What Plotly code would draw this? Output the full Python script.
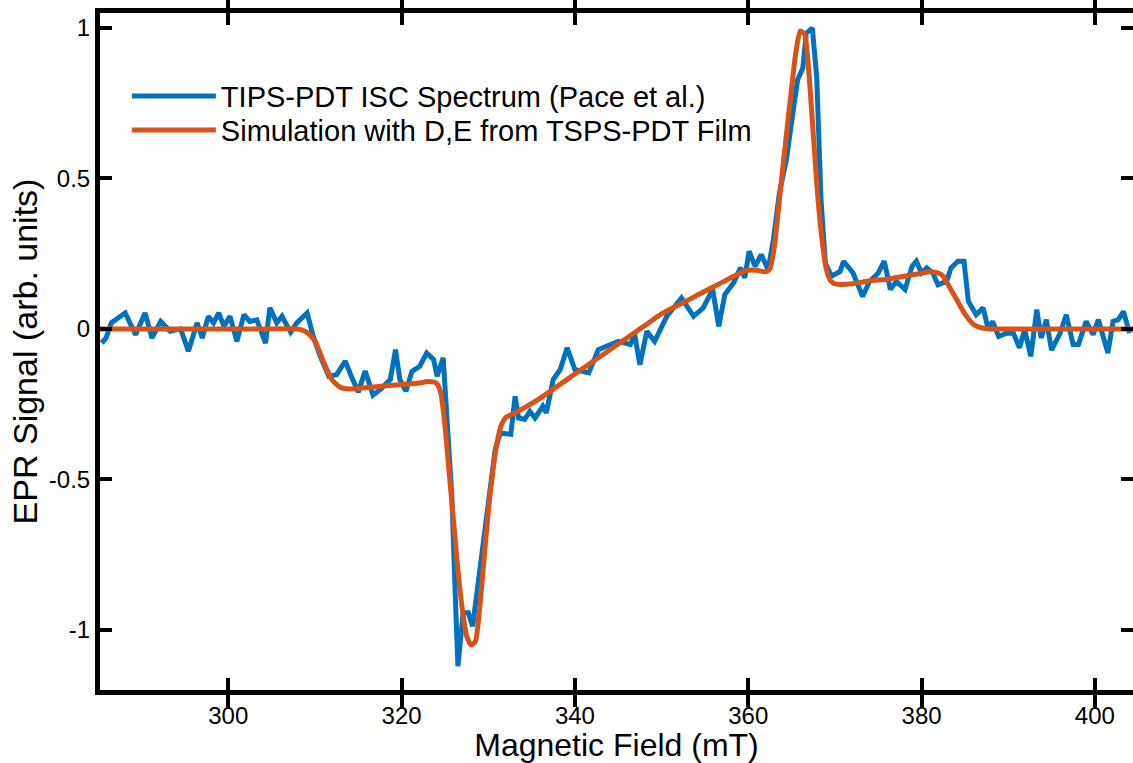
import plotly.graph_objects as go

# Experimental spectrum (blue)
field_exp = [285.4, 285.9, 286.5, 288.1, 289.3, 290.4, 291.2, 292.2, 293.3, 294.5, 295.4, 296.4, 297.0,
             297.7, 298.3, 298.9, 299.5, 300.2, 301.0, 301.8, 302.5, 303.3, 304.3, 304.8, 305.6, 306.2,
             307.2, 307.9, 309.1, 309.8, 310.6, 311.6, 312.5, 313.5, 314.2, 315.0, 315.8, 316.7, 317.6,
             318.7, 319.3, 319.8, 320.5, 321.2, 322.1, 322.9, 323.7, 324.1, 324.8, 325.2, 325.8, 326.2,
             326.5, 327.1, 327.7, 328.2, 329.0, 329.8, 330.8, 331.4, 332.1, 332.6, 333.1, 333.5, 334.2,
             334.8, 335.4, 336.3, 336.7, 337.5, 338.3, 339.1, 340.0, 341.6, 342.7, 343.7, 345.0, 346.4,
             346.9, 347.5, 348.3, 349.2, 350.6, 352.3, 353.7, 354.8, 355.9, 356.6, 357.3, 358.3, 359.1,
             359.6, 360.1, 360.8, 361.5, 362.3, 362.9, 363.6, 364.4, 365.2, 365.7, 366.3, 366.7, 367.4,
             367.9, 368.4, 368.9, 369.6, 370.6, 371.0, 372.1, 373.2, 374.0, 375.0, 375.7, 376.4, 377.1,
             378.1, 378.9, 379.4, 380.0, 380.6, 381.3, 381.9, 382.9, 383.4, 384.2, 384.9, 385.4, 386.3,
             387.1, 387.7, 388.2, 388.9, 389.8, 390.6, 391.3, 391.9, 392.6, 393.3, 393.8, 394.4, 395.0,
             396.0, 396.7, 397.5, 398.1, 399.0, 399.8, 400.4, 401.0, 401.5, 402.1, 402.7, 403.3, 404.0]
signal_exp = [-0.047, -0.03, 0.02, 0.053, -0.019, 0.053, -0.03, 0.025, -0.008, 0.0, -0.074, 0.02, -0.03,
              0.042, 0.02, 0.053, 0.009, 0.042, -0.041, 0.047, 0.025, 0.03, -0.047, 0.07, 0.02, 0.042,
              -0.011, 0.02, 0.053, -0.024, -0.09, -0.157, -0.152, -0.107, -0.157, -0.21, -0.14, -0.22, -0.2,
              -0.168, -0.069, -0.168, -0.207, -0.141, -0.124, -0.08, -0.102, -0.157, -0.096, -0.257, -0.556, -0.888,
              -1.121, -0.943, -0.943, -0.988, -0.81, -0.611, -0.401, -0.346, -0.346, -0.35, -0.224, -0.296, -0.301,
              -0.274, -0.296, -0.257, -0.279, -0.168, -0.135, -0.063, -0.135, -0.146, -0.069, -0.058, -0.041, -0.052,
              -0.019, -0.119, -0.008, -0.041, 0.042, 0.103, 0.042, 0.07, 0.131, 0.009, 0.114, 0.153, 0.203,
              0.17, 0.258, 0.208, 0.247, 0.197, 0.297, 0.452, 0.562, 0.728, 0.828, 0.867, 0.983, 1.0,
              0.839, 0.43, 0.219, 0.175, 0.191, 0.225, 0.186, 0.108, 0.158, 0.186, 0.225, 0.131, 0.158,
              0.131, 0.208, 0.225, 0.186, 0.203, 0.186, 0.147, 0.158, 0.203, 0.225, 0.225, 0.092, 0.047,
              0.07, -0.002, 0.025, -0.025, -0.014, -0.014, -0.063, -0.002, -0.091, 0.064, -0.03, 0.031, -0.07,
              -0.014, 0.047, -0.052, -0.052, 0.025, -0.019, 0.031, -0.025, -0.08, 0.025, 0.031, 0.058, -0.014]

# Simulation (orange)
field_sim = [285.2, 295.0, 305.0, 308.0, 309.0, 310.0, 311.0, 312.0, 313.0, 314.0, 316.0, 318.0, 320.0,
             322.0, 323.0, 324.0, 324.5, 325.0, 325.5, 326.0, 326.5, 327.0, 327.5, 328.0, 328.5, 329.0,
             329.5, 330.0, 330.5, 331.0, 331.5, 332.0, 333.0, 334.0, 336.0, 338.0, 340.0, 342.0, 344.0,
             346.0, 348.0, 350.0, 352.0, 354.0, 356.0, 358.0, 359.0, 360.0, 361.0, 362.0, 362.5, 363.0,
             363.5, 364.0, 364.5, 365.0, 365.5, 366.0, 366.5, 367.0, 367.5, 368.0, 368.5, 369.0, 369.5,
             370.0, 372.0, 374.0, 376.0, 378.0, 380.0, 381.0, 382.0, 382.5, 383.0, 384.0, 385.0, 386.0,
             387.0, 388.0, 395.0, 404.4]
signal_sim = [0.0, 0.0, 0.0, 0.0, -0.01, -0.04, -0.11, -0.17, -0.195, -0.2, -0.195, -0.19, -0.185,
              -0.18, -0.175, -0.18, -0.21, -0.32, -0.48, -0.64, -0.8, -0.93, -1.02, -1.05, -1.04, -0.93,
              -0.77, -0.61, -0.48, -0.38, -0.32, -0.295, -0.28, -0.265, -0.23, -0.19, -0.15, -0.11, -0.07,
              -0.03, 0.01, 0.05, 0.08, 0.11, 0.14, 0.17, 0.185, 0.195, 0.195, 0.19, 0.2, 0.27,
              0.4, 0.54, 0.67, 0.8, 0.92, 0.99, 0.98, 0.85, 0.65, 0.45, 0.3, 0.2, 0.16,
              0.15, 0.15, 0.16, 0.165, 0.175, 0.185, 0.19, 0.185, 0.175, 0.15, 0.1, 0.05, 0.015,
              0.003, 0.0, 0.0, 0.0]

x_ticks = [300, 320, 340, 360, 380, 400]
y_ticks = [-1, -0.5, 0, 0.5, 1]
y_tick_labels = ["-1", "-0.5", "0", "0.5", "1"]

FONT = "Liberation Sans, Arial, sans-serif"
Y_RANGE = [-1.2, 1.05]

fig = go.Figure()
fig.add_trace(go.Scatter(x=field_exp, y=signal_exp, mode="lines",
                         name="TIPS-PDT ISC Spectrum (Pace et al.)", legend="legend",
                         line=dict(color="#0072BD", width=5)))
fig.add_trace(go.Scatter(x=field_sim, y=signal_sim, mode="lines",
                         name="Simulation with D,E from TSPS-PDT Film", legend="legend2",
                         line=dict(color="#D95319", width=5, shape="spline", smoothing=0.6)))

tick_style = dict(ticks="inside", ticklen=12, tickwidth=4, tickcolor="black",
                  tickfont=dict(family=FONT, size=24, color="black"))

legend_style = dict(xanchor="left", yanchor="middle", bgcolor="rgba(0,0,0,0)",
                    font=dict(family=FONT, size=29, color="black"), itemwidth=84)

fig.update_layout(
    width=1133, height=763,
    margin=dict(l=100, r=0, t=13, b=73),
    paper_bgcolor="white", plot_bgcolor="white",
    font=dict(family=FONT, color="black"),
    xaxis=dict(range=[285.2, 404.4], tickvals=x_ticks, showgrid=False, zeroline=False,
               showline=True, linecolor="black", linewidth=5, mirror="allticks",
               title=dict(text="Magnetic Field (mT)", font=dict(family=FONT, size=32), standoff=6),
               **tick_style),
    yaxis=dict(range=Y_RANGE, tickvals=y_ticks, ticktext=y_tick_labels, showgrid=False, zeroline=False,
               showline=True, linecolor="black", linewidth=5, mirror=False,
               title=dict(text="EPR Signal (arb. units)", font=dict(family=FONT, size=34), standoff=2),
               **tick_style),
    yaxis2=dict(range=Y_RANGE, tickvals=y_ticks, overlaying="y", side="right", showline=False,
                showgrid=False, zeroline=False, showticklabels=False,
                ticks="inside", ticklen=12, tickwidth=4, tickcolor="black"),
    legend=dict(x=0.026, y=0.877, **legend_style),
    legend2=dict(x=0.026, y=0.827, **legend_style),
)

# invisible trace to activate the right-hand tick axis
fig.add_trace(go.Scatter(x=[field_sim[0]], y=[signal_sim[0]], yaxis="y2", mode="lines",
                         showlegend=False, hoverinfo="skip", line=dict(width=0)))

fig.write_html("out.html")
